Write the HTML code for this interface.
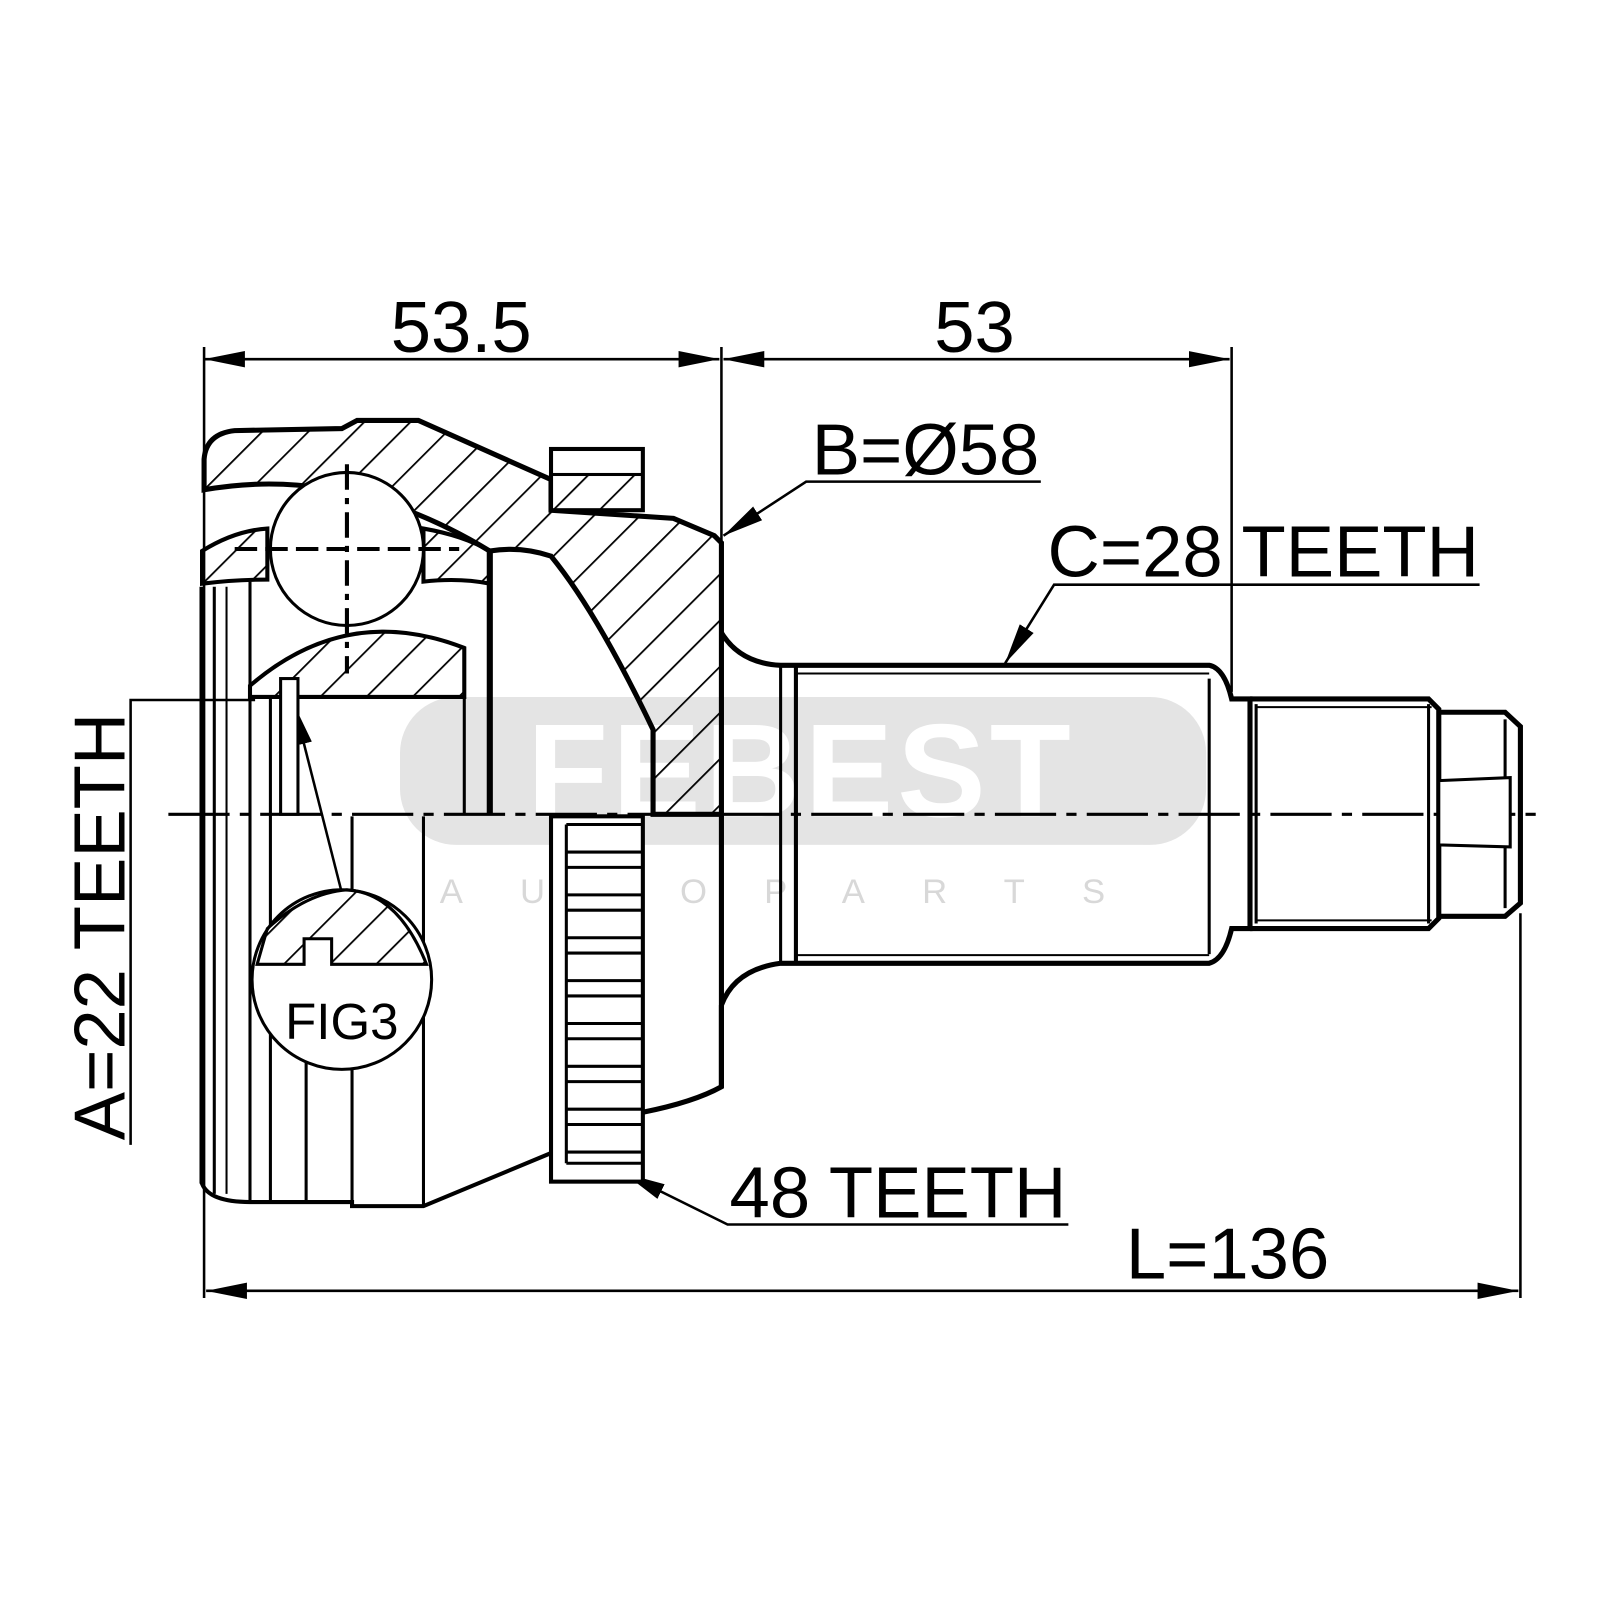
<!DOCTYPE html>
<html><head><meta charset="utf-8"><style>
html,body{margin:0;padding:0;background:#fff;}
svg{display:block;}
text{font-family:"Liberation Sans",sans-serif;fill:#000;}
</style></head><body>
<svg width="1600" height="1600" viewBox="0 0 1568 1568" xmlns="http://www.w3.org/2000/svg">
<defs>
<pattern id="h" patternUnits="userSpaceOnUse" width="32" height="32" patternTransform="rotate(45)">
<line x1="0" y1="0" x2="0" y2="32" stroke="#000" stroke-width="3.5"/>
</pattern>
<marker id="a" viewBox="0 0 20 10" refX="20" refY="5" markerWidth="40" markerHeight="20" markerUnits="userSpaceOnUse" orient="auto-start-reverse">
<path d="M0,1 L20,5 L0,9 Z" fill="#000"/>
</marker>
</defs>
<!-- watermark -->
<rect x="392" y="683" width="790" height="145" rx="55" fill="#e4e4e4"/>
<text x="785" y="800" font-size="130" font-weight="bold" text-anchor="middle" style="fill:#fff" letter-spacing="4">FEBEST</text>
<text x="785" y="885" font-size="34" text-anchor="middle" style="fill:#d8d8d8" letter-spacing="56">AUTOPARTS</text>

<g fill="none" stroke="#000">
<g stroke-width="2.5">
<line x1="200" y1="340" x2="200" y2="1272"/>
<line x1="707" y1="340" x2="707" y2="530"/>
<line x1="1207" y1="340" x2="1207" y2="678"/>
<line x1="1490" y1="895" x2="1490" y2="1272"/>
<line x1="200" y1="352" x2="705" y2="352" marker-start="url(#a)" marker-end="url(#a)"/>
<line x1="709" y1="352" x2="1205" y2="352" marker-start="url(#a)" marker-end="url(#a)"/>
<line x1="202" y1="1265" x2="1488" y2="1265" marker-start="url(#a)" marker-end="url(#a)"/>
<polyline points="1020,472 790,472 709,525" marker-end="url(#a)"/>
<polyline points="1450,573 1033,573 985,650" marker-end="url(#a)"/>
<polyline points="1047,1200 713,1200 612,1150" marker-end="url(#a)"/>
<polyline points="128,1122 128,686 250,686"/>
<line x1="335" y1="875" x2="288" y2="690" marker-end="url(#a)"/>
</g>
<line x1="165" y1="798" x2="1505" y2="798" stroke-width="3" stroke-dasharray="60,10,10,10"/>

<path d="M200,450 Q202,425 230,422 L335,420 L350,412 L410,412 L540,470 L540,500 L660,508 L700,525 L707,532 L707,798 L640,798 L640,715 Q585,600 540,545 Q510,535 480,540 Q340,455 200,480 Z" fill="url(#h)" stroke-width="5"/>
<rect x="540" y="440" width="90" height="60" fill="#fff" stroke-width="4"/>
<rect x="540" y="465" width="90" height="35" fill="url(#h)" stroke-width="3"/>
<path d="M198,540 Q230,520 262,518 L262,568 Q230,568 198,572 Z" fill="url(#h)" stroke-width="4"/>
<path d="M415,518 Q455,525 480,540 L480,572 Q450,566 415,570 Z" fill="url(#h)" stroke-width="4"/>
<circle cx="340" cy="538" r="75" fill="#fff" stroke-width="3"/>
<line x1="340" y1="455" x2="340" y2="660" stroke-width="4" stroke-dasharray="25,8,6,8"/>
<line x1="230" y1="538" x2="450" y2="538" stroke-width="4" stroke-dasharray="22,8"/>
<path d="M245,672 Q340,590 455,635 L455,683 L245,683 Z" fill="url(#h)" stroke-width="4"/>
<line x1="198" y1="575" x2="198" y2="1160" stroke-width="5"/>
<path d="M198,798 L198,1160 Q205,1178 245,1178 L345,1178 L345,1182 L415,1182 L540,1130" stroke-width="4"/>
<line x1="210" y1="575" x2="210" y2="1170" stroke-width="3"/>
<line x1="222" y1="575" x2="222" y2="1170" stroke-width="2"/>
<line x1="245" y1="570" x2="245" y2="1178" stroke-width="3"/>
<line x1="265" y1="683" x2="265" y2="1178" stroke-width="3"/>
<line x1="300" y1="1040" x2="300" y2="1178" stroke-width="3"/>
<line x1="345" y1="800" x2="345" y2="1178" stroke-width="3"/>
<line x1="415" y1="800" x2="415" y2="1182" stroke-width="3"/>
<line x1="455" y1="683" x2="455" y2="798" stroke-width="3"/>
<line x1="480" y1="540" x2="480" y2="798" stroke-width="6"/>
<rect x="275" y="665" width="17" height="133" fill="#fff" stroke-width="3"/>
<rect x="540" y="800" width="90" height="358" fill="#fff" stroke-width="4"/>
<g stroke-width="3">
<path d="M555,808 H630 M555,835 H630 M555,850 H630 M555,877 H630 M555,892 H630 M555,919 H630 M555,934 H630 M555,961 H630 M555,976 H630 M555,1003 H630 M555,1018 H630 M555,1045 H630 M555,1060 H630 M555,1087 H630 M555,1102 H630 M555,1129 H630 M555,1140 H630"/>
<line x1="555" y1="808" x2="555" y2="1140"/>
</g>
<path d="M630,1090 Q680,1080 707,1065 L707,798" stroke-width="5"/>
<path d="M707,620 Q725,650 765,652 L1185,652 Q1200,655 1207,685 L1225,685 L1225,910 L1207,910 Q1200,940 1185,944 L765,944 Q720,950 707,985" stroke-width="5"/>
<line x1="707" y1="985" x2="707" y2="1065" stroke-width="5"/>
<line x1="765" y1="652" x2="765" y2="944" stroke-width="3"/>
<line x1="780" y1="652" x2="780" y2="944" stroke-width="4"/>
<line x1="1185" y1="665" x2="1185" y2="935" stroke-width="3"/>
<line x1="780" y1="660" x2="1185" y2="660" stroke-width="2"/>
<line x1="780" y1="936" x2="1185" y2="936" stroke-width="2"/>
<path d="M1225,685 L1400,685 L1410,695 L1410,900 L1400,910 L1225,910" stroke-width="5"/>
<line x1="1230" y1="693" x2="1403" y2="693" stroke-width="2"/>
<line x1="1230" y1="902" x2="1403" y2="902" stroke-width="2"/>
<line x1="1231" y1="690" x2="1231" y2="905" stroke-width="3"/>
<line x1="1400" y1="690" x2="1400" y2="905" stroke-width="3"/>
<path d="M1410,698 L1475,698 L1490,712 L1490,885 L1475,898 L1410,898" stroke-width="5"/>
<line x1="1475" y1="705" x2="1475" y2="890" stroke-width="3"/>
<path d="M1410,765 L1480,762 L1480,830 L1410,828 Z" fill="#fff" stroke-width="3"/>
<circle cx="335" cy="960" r="88" fill="#fff" stroke-width="3"/>
<path d="M262,910 Q300,875 340,872 Q390,875 418,945 L325,945 L325,920 L298,920 L298,945 L252,945 Z" fill="url(#h)" stroke-width="3"/>
</g>
<g font-size="71">
<text x="452" y="345" text-anchor="middle">53.5</text>
<text x="955" y="345" text-anchor="middle">53</text>
<text x="907" y="465" text-anchor="middle">B=Ø58</text>
<text x="1238" y="565" text-anchor="middle">C=28 TEETH</text>
<text x="880" y="1193" text-anchor="middle">48 TEETH</text>
<text x="1203" y="1253" text-anchor="middle">L=136</text>
<text transform="translate(122,908) rotate(-90)" text-anchor="middle">A=22 TEETH</text>
</g>
<text x="335" y="1018" font-size="50" text-anchor="middle">FIG3</text>
</svg>
</body></html>
